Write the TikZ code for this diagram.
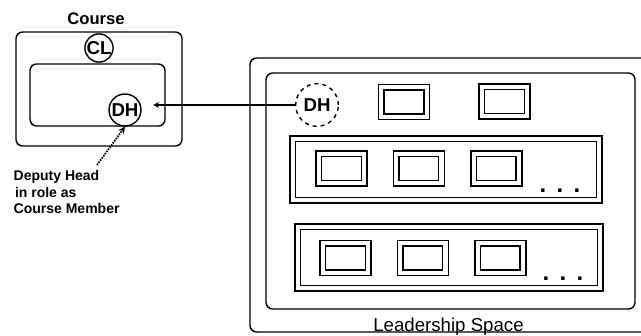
\documentclass[tikz,border=0pt]{standalone}
\usepackage{fontspec}
\setmainfont{Liberation Sans}
\usetikzlibrary{shapes,arrows,positioning}

\begin{document}
\begin{tikzpicture}[x=0.75pt, y=-0.75pt, line width=1.05pt, node distance=23pt]
\tikzstyle{frame} = [draw, rounded corners=5pt]
\tikzstyle{room} = [rectangle, draw, double, double distance=3.2pt, minimum width=34pt, minimum height=22pt, inner sep=0pt]
\tikzstyle{group} = [rectangle, draw, double, double distance=3.2pt, minimum height=46pt, inner sep=0pt]
\tikzstyle{role} = [circle, draw, inner sep=0pt, font=\bfseries\fontsize{14}{14}\selectfont]
\tikzstyle{more} = [anchor=base, font=\bfseries\fontsize{18}{18}\selectfont]
\tikzstyle{arrow} = [->, >=stealth]

\useasboundingbox (0,0) rectangle (641,335);

% course side
\node [font=\bfseries\fontsize{12.5}{14}\selectfont] (course) at (96,19) {Course};
\draw [frame] (16,32) rectangle (182,146);
\draw [frame] (30,64) rectangle (165,126);
\node [role, minimum size=21pt] (cl) at (99,48) {CL};
\node [role, minimum size=24pt] (dh) at (125,110) {DH};
\node [anchor=north west, inner sep=0pt, align=left, font=\bfseries\fontsize{10.5}{12.4}\selectfont] (note) at (13,170)
  {Deputy Head\\\hspace*{1pt}in role as\\Course Member};
\coordinate (notetip) at (97,165);
\coordinate (slot) at (153,105);

% leadership side
\draw [frame] (250,58) rectangle (660,332);
\draw [frame] (266,73) rectangle (635,309);
\node [role, dashed, minimum size=32pt] (dhs) at (317,105) {DH};
\node [room] (top1) at (404,102) {};
\node [room] (top2) at (504.5,101.5) {};

\node [group, minimum width=230pt] (row1) at (446,169.5) {};
\node [room] (r1a) at (341.5,168.5) {};
\node [room, right=of r1a] (r1b) {};
\node [room, right=of r1b] (r1c) {};
\node [more] (dots1) at (560,192) {.\hspace{7.7pt}.\hspace{7.7pt}.};

\node [group, minimum width=227pt] (row2) at (449,257.5) {};
\node [room] (r2a) at (345.5,258) {};
\node [room, right=of r2a] (r2b) {};
\node [room, right=of r2b] (r2c) {};
\node [more] (dots2) at (563,280) {.\hspace{7.7pt}.\hspace{7.7pt}.};

\node [font=\fontsize{14}{14}\selectfont, anchor=base] (space) at (448.5,331) {Leadership Space};

\draw [arrow] (dhs) -- (slot);
\draw [arrow, line width=1.3pt, dash pattern=on 1.2pt off 0.8pt] (notetip) -- (dh.south);
\end{tikzpicture}
\end{document}
